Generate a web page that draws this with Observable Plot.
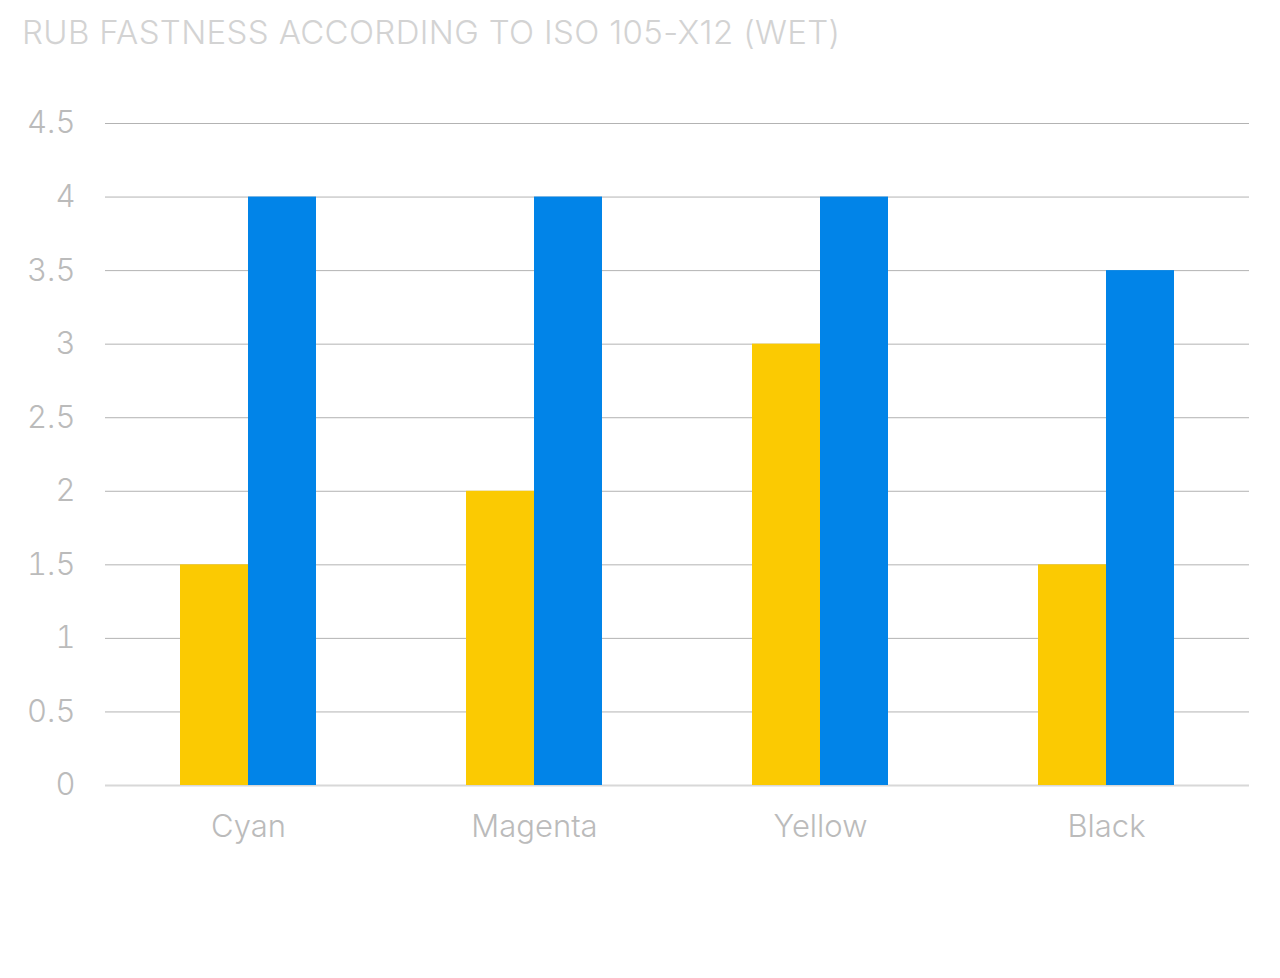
<!DOCTYPE html>
<html><head><meta charset="utf-8">
<script src="https://cdn.jsdelivr.net/npm/d3@7"></script>
<script src="https://cdn.jsdelivr.net/npm/@observablehq/plot@0.6"></script>
<style>
body{margin:0;background:#fff;font-family:Inter, sans-serif;}
#title{font-family:Inter, sans-serif;font-weight:300;font-size:33px;letter-spacing:0.35px;color:#d3d3d3;padding:12px 0 0 22px;line-height:40px;white-space:nowrap;box-sizing:border-box;height:64px;}
</style></head><body>
<div id="title">RUB FASTNESS ACCORDING TO ISO 105-X12 (WET)</div>
<div id="chart"></div>
<script>
const categories = ["Cyan", "Magenta", "Yellow", "Black"];
const seriesNames = ["Series 1", "Series 2"];
const series1 = [1.5, 2, 3, 1.5];
const series2 = [4, 4, 4, 3.5];
const yTicks = [0, 0.5, 1, 1.5, 2, 2.5, 3, 3.5, 4, 4.5];

const data = categories.flatMap((c, i) => [
  {category: c, series: seriesNames[0], value: series1[i]},
  {category: c, series: seriesNames[1], value: series2[i]}
]);

const plot = Plot.plot({
  width: 1280, height: 914,
  marginTop: 59, marginBottom: 193, marginLeft: 104, marginRight: 30,
  style: {fontFamily: "Inter, sans-serif", fontWeight: 300, fontSize: "31px", color: "#bbbbbb", background: "#fff"},
  fx: {domain: categories, padding: 0, label: null, axis: "bottom", tickSize: 0, tickPadding: 29},
  x: {domain: seriesNames, paddingInner: 0, paddingOuter: 1.08, axis: null},
  y: {domain: [0, 4.5], ticks: 9, tickSize: 0, tickPadding: 30, label: null, tickFormat: d => String(d), fontSize: 30},
  color: {domain: seriesNames, range: ["#FBCA02", "#0184E8"]},
  marks: [
    Plot.ruleY(yTicks.filter(d => d > 0), {stroke: "#b3b3b3", strokeWidth: 1}),
    Plot.ruleY([0], {stroke: "#d8d8d8", strokeWidth: 2}),
    Plot.barY(data, {fx: "category", x: "series", y: "value", fill: "series", inset: 0})
  ]
});
document.getElementById("chart").appendChild(plot);
</script>
</body></html>
